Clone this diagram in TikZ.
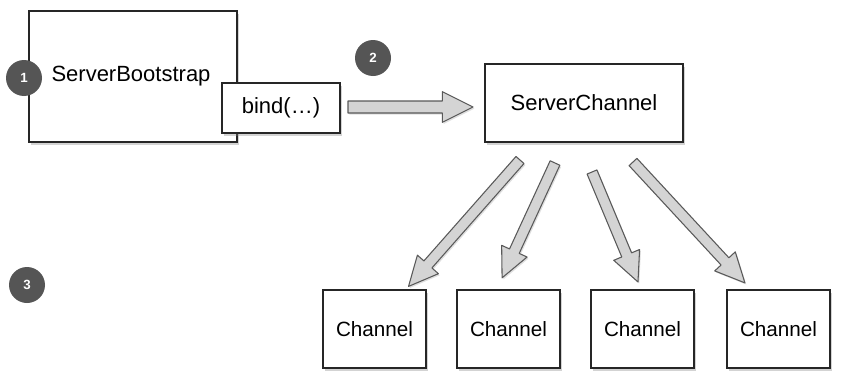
\documentclass[tikz,border=0pt]{standalone}
\usepackage{fontspec}
\setmainfont{Liberation Sans}
\usetikzlibrary{calc,shadows}
\definecolor{numgray}{HTML}{555555}
\tikzset{
 box/.style={draw=black!85, line width=0.8pt, fill=white, drop shadow={shadow xshift=1.8pt, shadow yshift=-2.2pt, opacity=0.35}, inner sep=0pt, font=\fontsize{16.5}{18}\selectfont},
 chbox/.style={box, minimum width=77.25pt, minimum height=58.5pt, font=\fontsize{15.5}{17}\selectfont},
 numdot/.style={circle, fill=numgray, minimum size=27pt, inner sep=0pt, text=white, font=\bfseries\fontsize{10}{12}\selectfont},
 fatarrowstyle/.style={draw=black!65, fill=black!17, line width=0.8pt, line join=round, drop shadow={shadow xshift=1pt, shadow yshift=-1.2pt, opacity=0.25}},
}
\newcommand\fatarrow[5]{%
 \path let \p1=(#1), \p2=(#2) in \pgfextra{%
   \pgfmathsetmacro\fatA{atan2(\y2-\y1,\x2-\x1)}%
   \pgfmathsetmacro\fatL{veclen(\x2-\x1,\y2-\y1)}%
   \xdef\fatAng{\fatA}\xdef\fatLen{\fatL}};
 \begin{scope}[shift={(#1)}, rotate=\fatAng]
  \draw[fatarrowstyle] (0pt,-#3) -- ({\fatLen pt-#5},-#3) -- ({\fatLen pt-#5},-#4) -- ({\fatLen pt},0pt) -- ({\fatLen pt-#5},#4) -- ({\fatLen pt-#5},#3) -- (0pt,#3) -- cycle;
 \end{scope}}
\begin{document}
\begin{tikzpicture}[x=0.75pt, y=-0.75pt]
\useasboundingbox (0,0) rectangle (841,371);
% boxes
\node[box, minimum width=156pt, minimum height=98.25pt] (boot) at (133,76.5) {};
\node[font=\fontsize{16.5}{18}\selectfont] (boottxt) at (131,76) {ServerBootstrap};
\node[box, minimum width=88.5pt, minimum height=37.5pt] (bind) at (281,108) {bind(\dots)};
\node[box, minimum width=148.5pt, minimum height=58.5pt] (sc) at (584,103) {ServerChannel};
\node[chbox] (ch1) at (374.5,329) {Channel};
\node[chbox] (ch2) at (508.5,329) {Channel};
\node[chbox] (ch3) at (642.5,329) {Channel};
\node[chbox] (ch4) at (778.5,329) {Channel};
% arrow endpoints
\coordinate (a0s) at (348,107);
\coordinate (a0e) at (473,107);
\coordinate (a1s) at (520,160);
\coordinate (a1e) at (408,287);
\coordinate (a2s) at (555,163);
\coordinate (a2e) at (502,278);
\coordinate (a3s) at (592,172);
\coordinate (a3e) at (638,282);
\coordinate (a4s) at (633,162);
\coordinate (a4e) at (745,283);
\fatarrow{a0s}{a0e}{4.5pt}{11.5pt}{23pt}
\fatarrow{a1s}{a1e}{4pt}{10.5pt}{22pt}
\fatarrow{a2s}{a2e}{4pt}{10.5pt}{22pt}
\fatarrow{a3s}{a3e}{4pt}{10.5pt}{22pt}
\fatarrow{a4s}{a4e}{4pt}{10.5pt}{22pt}
% number markers
\node[numdot] (n1) at (24,78) {1};
\node[numdot] (n2) at (373,58) {2};
\node[numdot] (n3) at (27,285) {3};
\end{tikzpicture}
\end{document}
